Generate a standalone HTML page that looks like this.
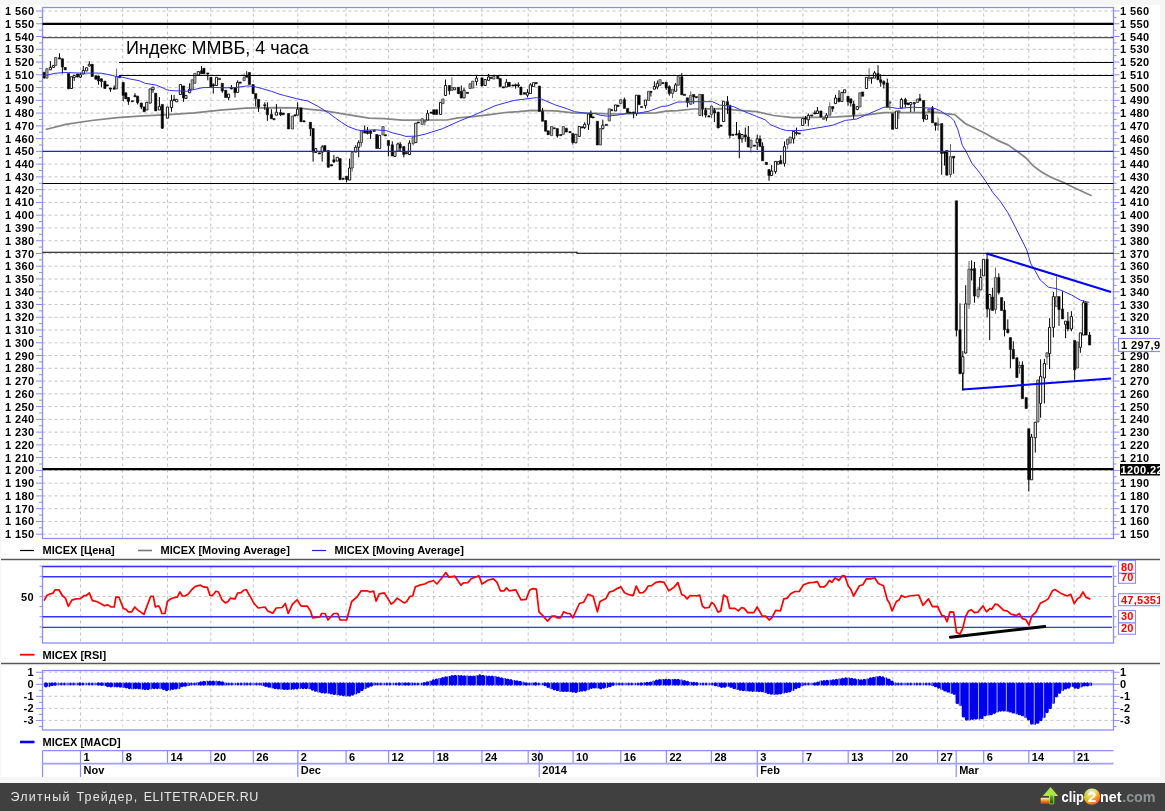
<!DOCTYPE html>
<html><head><meta charset="utf-8"><title>chart</title>
<style>
html,body{margin:0;padding:0;background:#f6f6f6;}
body{width:1165px;height:811px;overflow:hidden;position:relative;font-family:"Liberation Sans",sans-serif;}
#img{position:absolute;left:1px;top:5px;width:1159px;height:772px;background:#fff;}
#bar{position:absolute;left:0;top:783px;width:1165px;height:28px;background:#404040;}
#cap{will-change:transform;position:absolute;left:10px;top:787px;font-size:13px;letter-spacing:0.62px;color:#e4e4e4;white-space:nowrap;line-height:16px;}
svg{position:absolute;left:0;top:0;will-change:transform;}
text{font-family:"Liberation Sans",sans-serif;}
.ax{font-size:11px;font-weight:bold;fill:#000;letter-spacing:0.4px;}
.lg{font-size:11px;font-weight:bold;fill:#000;}
.rd{font-size:11px;font-weight:bold;fill:#f00;letter-spacing:0.25px;}
</style></head><body>
<div id="img"></div><div id="bar"></div>
<svg width="1165" height="811" viewBox="0 0 1165 811">
<path d="M42.5 534.20H1113.5M42.5 521.44H1113.5M42.5 508.68H1113.5M42.5 495.92H1113.5M42.5 483.16H1113.5M42.5 470.40H1113.5M42.5 457.63H1113.5M42.5 444.87H1113.5M42.5 432.11H1113.5M42.5 419.35H1113.5M42.5 406.59H1113.5M42.5 393.83H1113.5M42.5 381.07H1113.5M42.5 368.31H1113.5M42.5 355.55H1113.5M42.5 342.79H1113.5M42.5 330.02H1113.5M42.5 317.26H1113.5M42.5 304.50H1113.5M42.5 291.74H1113.5M42.5 278.98H1113.5M42.5 266.22H1113.5M42.5 253.46H1113.5M42.5 240.70H1113.5M42.5 227.94H1113.5M42.5 215.18H1113.5M42.5 202.41H1113.5M42.5 189.65H1113.5M42.5 176.89H1113.5M42.5 164.13H1113.5M42.5 151.37H1113.5M42.5 138.61H1113.5M42.5 125.85H1113.5M42.5 113.09H1113.5M42.5 100.33H1113.5M42.5 87.57H1113.5M42.5 74.81H1113.5M42.5 62.04H1113.5M42.5 49.28H1113.5M42.5 36.52H1113.5M42.5 23.76H1113.5M42.5 11.00H1113.5" stroke="#c2c2c2" stroke-width="1" stroke-dasharray="3 3" fill="none"/>
<path d="M80.5 7.5V538.5M80.5 566.5V643M80.5 670.5V730M122.7 7.5V538.5M122.7 566.5V643M122.7 670.5V730M167.5 7.5V538.5M167.5 566.5V643M167.5 670.5V730M210.8 7.5V538.5M210.8 566.5V643M210.8 670.5V730M253.3 7.5V538.5M253.3 566.5V643M253.3 670.5V730M297.8 7.5V538.5M297.8 566.5V643M297.8 670.5V730M346.1 7.5V538.5M346.1 566.5V643M346.1 670.5V730M388.6 7.5V538.5M388.6 566.5V643M388.6 670.5V730M433.7 7.5V538.5M433.7 566.5V643M433.7 670.5V730M481.9 7.5V538.5M481.9 566.5V643M481.9 670.5V730M528.2 7.5V538.5M528.2 566.5V643M528.2 670.5V730M573.1 7.5V538.5M573.1 566.5V643M573.1 670.5V730M620.8 7.5V538.5M620.8 566.5V643M620.8 670.5V730M666.4 7.5V538.5M666.4 566.5V643M666.4 670.5V730M711.4 7.5V538.5M711.4 566.5V643M711.4 670.5V730M757.3 7.5V538.5M757.3 566.5V643M757.3 670.5V730M802.9 7.5V538.5M802.9 566.5V643M802.9 670.5V730M848.2 7.5V538.5M848.2 566.5V643M848.2 670.5V730M892.8 7.5V538.5M892.8 566.5V643M892.8 670.5V730M937.6 7.5V538.5M937.6 566.5V643M937.6 670.5V730M983.7 7.5V538.5M983.7 566.5V643M983.7 670.5V730M1028.8 7.5V538.5M1028.8 566.5V643M1028.8 670.5V730M1074.1 7.5V538.5M1074.1 566.5V643M1074.1 670.5V730" stroke="#c2c2c2" stroke-width="1" stroke-dasharray="3 3" fill="none"/>
<path d="M36 534.20H42.5M1113.5 534.20H1119.5M36 521.44H42.5M1113.5 521.44H1119.5M36 508.68H42.5M1113.5 508.68H1119.5M36 495.92H42.5M1113.5 495.92H1119.5M36 483.16H42.5M1113.5 483.16H1119.5M36 470.40H42.5M1113.5 470.40H1119.5M36 457.63H42.5M1113.5 457.63H1119.5M36 444.87H42.5M1113.5 444.87H1119.5M36 432.11H42.5M1113.5 432.11H1119.5M36 419.35H42.5M1113.5 419.35H1119.5M36 406.59H42.5M1113.5 406.59H1119.5M36 393.83H42.5M1113.5 393.83H1119.5M36 381.07H42.5M1113.5 381.07H1119.5M36 368.31H42.5M1113.5 368.31H1119.5M36 355.55H42.5M1113.5 355.55H1119.5M36 342.79H42.5M1113.5 342.79H1119.5M36 330.02H42.5M1113.5 330.02H1119.5M36 317.26H42.5M1113.5 317.26H1119.5M36 304.50H42.5M1113.5 304.50H1119.5M36 291.74H42.5M1113.5 291.74H1119.5M36 278.98H42.5M1113.5 278.98H1119.5M36 266.22H42.5M1113.5 266.22H1119.5M36 253.46H42.5M1113.5 253.46H1119.5M36 240.70H42.5M1113.5 240.70H1119.5M36 227.94H42.5M1113.5 227.94H1119.5M36 215.18H42.5M1113.5 215.18H1119.5M36 202.41H42.5M1113.5 202.41H1119.5M36 189.65H42.5M1113.5 189.65H1119.5M36 176.89H42.5M1113.5 176.89H1119.5M36 164.13H42.5M1113.5 164.13H1119.5M36 151.37H42.5M1113.5 151.37H1119.5M36 138.61H42.5M1113.5 138.61H1119.5M36 125.85H42.5M1113.5 125.85H1119.5M36 113.09H42.5M1113.5 113.09H1119.5M36 100.33H42.5M1113.5 100.33H1119.5M36 87.57H42.5M1113.5 87.57H1119.5M36 74.81H42.5M1113.5 74.81H1119.5M36 62.04H42.5M1113.5 62.04H1119.5M36 49.28H42.5M1113.5 49.28H1119.5M36 36.52H42.5M1113.5 36.52H1119.5M36 23.76H42.5M1113.5 23.76H1119.5M36 11.00H42.5M1113.5 11.00H1119.5M39 527.82H42.5M1113.5 527.82H1116.5M39 515.06H42.5M1113.5 515.06H1116.5M39 502.30H42.5M1113.5 502.30H1116.5M39 489.54H42.5M1113.5 489.54H1116.5M39 476.78H42.5M1113.5 476.78H1116.5M39 464.02H42.5M1113.5 464.02H1116.5M39 451.25H42.5M1113.5 451.25H1116.5M39 438.49H42.5M1113.5 438.49H1116.5M39 425.73H42.5M1113.5 425.73H1116.5M39 412.97H42.5M1113.5 412.97H1116.5M39 400.21H42.5M1113.5 400.21H1116.5M39 387.45H42.5M1113.5 387.45H1116.5M39 374.69H42.5M1113.5 374.69H1116.5M39 361.93H42.5M1113.5 361.93H1116.5M39 349.17H42.5M1113.5 349.17H1116.5M39 336.41H42.5M1113.5 336.41H1116.5M39 323.64H42.5M1113.5 323.64H1116.5M39 310.88H42.5M1113.5 310.88H1116.5M39 298.12H42.5M1113.5 298.12H1116.5M39 285.36H42.5M1113.5 285.36H1116.5M39 272.60H42.5M1113.5 272.60H1116.5M39 259.84H42.5M1113.5 259.84H1116.5M39 247.08H42.5M1113.5 247.08H1116.5M39 234.32H42.5M1113.5 234.32H1116.5M39 221.56H42.5M1113.5 221.56H1116.5M39 208.80H42.5M1113.5 208.80H1116.5M39 196.03H42.5M1113.5 196.03H1116.5M39 183.27H42.5M1113.5 183.27H1116.5M39 170.51H42.5M1113.5 170.51H1116.5M39 157.75H42.5M1113.5 157.75H1116.5M39 144.99H42.5M1113.5 144.99H1116.5M39 132.23H42.5M1113.5 132.23H1116.5M39 119.47H42.5M1113.5 119.47H1116.5M39 106.71H42.5M1113.5 106.71H1116.5M39 93.95H42.5M1113.5 93.95H1116.5M39 81.19H42.5M1113.5 81.19H1116.5M39 68.42H42.5M1113.5 68.42H1116.5M39 55.66H42.5M1113.5 55.66H1116.5M39 42.90H42.5M1113.5 42.90H1116.5M39 30.14H42.5M1113.5 30.14H1116.5M39 17.38H42.5M1113.5 17.38H1116.5" stroke="#8c8cff" stroke-width="1" fill="none"/>
<rect x="42.5" y="7.5" width="1071.0" height="531.0" fill="none" stroke="#8c8cff" stroke-width="1.3"/>
<text class="ax" x="34.5" y="538.2" text-anchor="end">1 150</text>
<text class="ax" x="1120" y="538.2">1 150</text>
<text class="ax" x="34.5" y="525.4" text-anchor="end">1 160</text>
<text class="ax" x="1120" y="525.4">1 160</text>
<text class="ax" x="34.5" y="512.7" text-anchor="end">1 170</text>
<text class="ax" x="1120" y="512.7">1 170</text>
<text class="ax" x="34.5" y="499.9" text-anchor="end">1 180</text>
<text class="ax" x="1120" y="499.9">1 180</text>
<text class="ax" x="34.5" y="487.2" text-anchor="end">1 190</text>
<text class="ax" x="1120" y="487.2">1 190</text>
<text class="ax" x="34.5" y="474.4" text-anchor="end">1 200</text>
<text class="ax" x="1120" y="474.4">1 200</text>
<text class="ax" x="34.5" y="461.6" text-anchor="end">1 210</text>
<text class="ax" x="1120" y="461.6">1 210</text>
<text class="ax" x="34.5" y="448.9" text-anchor="end">1 220</text>
<text class="ax" x="1120" y="448.9">1 220</text>
<text class="ax" x="34.5" y="436.1" text-anchor="end">1 230</text>
<text class="ax" x="1120" y="436.1">1 230</text>
<text class="ax" x="34.5" y="423.4" text-anchor="end">1 240</text>
<text class="ax" x="1120" y="423.4">1 240</text>
<text class="ax" x="34.5" y="410.6" text-anchor="end">1 250</text>
<text class="ax" x="1120" y="410.6">1 250</text>
<text class="ax" x="34.5" y="397.8" text-anchor="end">1 260</text>
<text class="ax" x="1120" y="397.8">1 260</text>
<text class="ax" x="34.5" y="385.1" text-anchor="end">1 270</text>
<text class="ax" x="1120" y="385.1">1 270</text>
<text class="ax" x="34.5" y="372.3" text-anchor="end">1 280</text>
<text class="ax" x="1120" y="372.3">1 280</text>
<text class="ax" x="34.5" y="359.5" text-anchor="end">1 290</text>
<text class="ax" x="1120" y="359.5">1 290</text>
<text class="ax" x="34.5" y="346.8" text-anchor="end">1 300</text>
<text class="ax" x="1120" y="346.8">1 300</text>
<text class="ax" x="34.5" y="334.0" text-anchor="end">1 310</text>
<text class="ax" x="1120" y="334.0">1 310</text>
<text class="ax" x="34.5" y="321.3" text-anchor="end">1 320</text>
<text class="ax" x="1120" y="321.3">1 320</text>
<text class="ax" x="34.5" y="308.5" text-anchor="end">1 330</text>
<text class="ax" x="1120" y="308.5">1 330</text>
<text class="ax" x="34.5" y="295.7" text-anchor="end">1 340</text>
<text class="ax" x="1120" y="295.7">1 340</text>
<text class="ax" x="34.5" y="283.0" text-anchor="end">1 350</text>
<text class="ax" x="1120" y="283.0">1 350</text>
<text class="ax" x="34.5" y="270.2" text-anchor="end">1 360</text>
<text class="ax" x="1120" y="270.2">1 360</text>
<text class="ax" x="34.5" y="257.5" text-anchor="end">1 370</text>
<text class="ax" x="1120" y="257.5">1 370</text>
<text class="ax" x="34.5" y="244.7" text-anchor="end">1 380</text>
<text class="ax" x="1120" y="244.7">1 380</text>
<text class="ax" x="34.5" y="231.9" text-anchor="end">1 390</text>
<text class="ax" x="1120" y="231.9">1 390</text>
<text class="ax" x="34.5" y="219.2" text-anchor="end">1 400</text>
<text class="ax" x="1120" y="219.2">1 400</text>
<text class="ax" x="34.5" y="206.4" text-anchor="end">1 410</text>
<text class="ax" x="1120" y="206.4">1 410</text>
<text class="ax" x="34.5" y="193.7" text-anchor="end">1 420</text>
<text class="ax" x="1120" y="193.7">1 420</text>
<text class="ax" x="34.5" y="180.9" text-anchor="end">1 430</text>
<text class="ax" x="1120" y="180.9">1 430</text>
<text class="ax" x="34.5" y="168.1" text-anchor="end">1 440</text>
<text class="ax" x="1120" y="168.1">1 440</text>
<text class="ax" x="34.5" y="155.4" text-anchor="end">1 450</text>
<text class="ax" x="1120" y="155.4">1 450</text>
<text class="ax" x="34.5" y="142.6" text-anchor="end">1 460</text>
<text class="ax" x="1120" y="142.6">1 460</text>
<text class="ax" x="34.5" y="129.8" text-anchor="end">1 470</text>
<text class="ax" x="1120" y="129.8">1 470</text>
<text class="ax" x="34.5" y="117.1" text-anchor="end">1 480</text>
<text class="ax" x="1120" y="117.1">1 480</text>
<text class="ax" x="34.5" y="104.3" text-anchor="end">1 490</text>
<text class="ax" x="1120" y="104.3">1 490</text>
<text class="ax" x="34.5" y="91.6" text-anchor="end">1 500</text>
<text class="ax" x="1120" y="91.6">1 500</text>
<text class="ax" x="34.5" y="78.8" text-anchor="end">1 510</text>
<text class="ax" x="1120" y="78.8">1 510</text>
<text class="ax" x="34.5" y="66.0" text-anchor="end">1 520</text>
<text class="ax" x="1120" y="66.0">1 520</text>
<text class="ax" x="34.5" y="53.3" text-anchor="end">1 530</text>
<text class="ax" x="1120" y="53.3">1 530</text>
<text class="ax" x="34.5" y="40.5" text-anchor="end">1 540</text>
<text class="ax" x="1120" y="40.5">1 540</text>
<text class="ax" x="34.5" y="27.8" text-anchor="end">1 550</text>
<text class="ax" x="1120" y="27.8">1 550</text>
<text class="ax" x="34.5" y="15.0" text-anchor="end">1 560</text>
<text class="ax" x="1120" y="15.0">1 560</text>
<path d="M45.7 129.5L65.8 124.4L91.5 120.5L117.3 117.7L143.0 115.9L168.8 114.6L194.5 112.8L220.3 110.2L246.0 108.2L271.8 107.6L297.5 107.8L310.0 109.3L323.3 110.7L340.0 113.3L369.0 118.2L384.1 118.7L393.0 119.3L402.3 120.2L446.8 120.0L458.0 117.9L472.7 116.6L489.9 114.6L505.5 112.5L518.5 111.6L531.4 110.4L555.6 110.8L572.8 112.8L595.2 113.4L615.9 114.0L630.0 113.7L655.9 112.9L666.2 111.2L677.5 110.7L693.0 109.0L722.0 108.7L739.3 110.4L756.5 111.6L773.8 115.5L792.8 117.7L815.0 117.3L836.6 116.9L849.5 116.1L866.8 114.8L884.0 112.6L912.6 112.7L936.8 112.4L943.7 113.3L954.8 114.6L965.2 123.5L974.9 128.3L985.9 133.8L997.0 140.1L1008.0 144.9L1017.7 151.8L1026.0 158.0L1032.9 165.6L1041.2 171.8L1050.8 177.3L1064.6 182.9L1078.5 189.8L1091.6 195.7" stroke="#858585" stroke-width="1.7" fill="none" stroke-linejoin="round"/>
<path d="M44.3 71.9V72.3M44.3 78.1V78.5M50.4 61.2V67.4M50.4 69.8V70.2M53.5 65.0V65.4M53.5 67.4V67.8M59.5 53.3V57.8M62.4 58.5V58.8M62.4 67.1V73.6M65.2 67.1V67.4M65.2 69.8V70.2M68.6 73.3V73.6M68.6 88.8V89.2M71.4 76.4V76.7M71.4 88.5V88.8M74.2 75.0V75.4M74.2 77.4V80.9M77.6 73.6V74.0M77.6 77.1V77.4M80.4 72.6V74.7M80.4 77.1V78.1M83.3 66.0V70.5M83.3 74.0V74.3M86.6 67.4V67.8M86.6 70.9V71.2M89.3 61.2V64.3M89.3 66.0V66.4M92.2 64.0V64.3M92.2 76.4V76.7M95.9 75.4V75.7M95.9 79.2V79.5M98.5 75.7V76.1M98.5 80.9V84.7M101.4 78.5V78.8M101.4 81.6V87.4M104.9 80.9V81.2M104.9 88.5V88.8M110.4 89.2V91.9M114.2 85.4V87.8M114.2 89.2V89.5M119.7 75.5V76.0M123.2 82.0V82.4M123.2 95.4V101.4M125.8 92.4V92.8M128.4 97.1V97.5M128.4 101.4V104.9M135.0 93.2V95.6M137.6 95.8V96.2M137.6 102.7V104.4M141.3 102.7V103.1M141.3 107.0V109.2M144.2 106.6V107.0M153.0 89.8V92.8M159.4 97.1V106.6M162.3 128.2V129.0M171.5 94.9V100.6M171.5 107.5V111.8M174.1 94.9V99.3M183.6 98.0V101.8M189.6 83.3V89.3M201.5 66.0V70.8M207.8 74.1V80.3M213.3 83.3V84.6M213.3 85.9V93.6M216.5 85.5V85.9M222.3 91.1V92.8M228.6 97.5V100.1M231.4 85.0V87.6M231.4 88.9V89.3M235.0 92.8V97.5M237.6 80.3V82.4M246.7 71.2V75.5M255.7 98.8V106.6M258.5 107.0V111.8M264.8 102.3V104.7M264.8 105.9V110.0M267.4 102.3V108.3M267.4 114.8V120.8M271.4 109.2V114.4M276.4 104.0V112.2M280.6 109.2V112.6M280.6 114.8V116.1M297.6 102.3V109.2M310.4 128.8V136.1M313.1 152.1V161.6M322.2 145.2V146.9M322.2 152.1V161.6M328.3 167.2V167.6M333.9 155.1V159.8M333.9 162.0V162.9M346.6 179.7V182.3M349.6 158.6V168.0M355.7 145.2V147.3M358.7 140.4V142.6M358.7 147.3V157.3M364.7 125.3V130.9M367.5 127.1V130.9M367.5 133.5V134.4M370.6 130.1V130.9M370.6 133.5V139.1M388.4 145.6V156.4M392.3 141.3V144.7M397.9 142.6V143.9M400.2 142.1V144.2M400.2 148.1V151.2M403.8 154.5V157.4M409.5 140.3V143.1M427.5 110.1V113.6M445.5 79.5V85.5M449.4 90.7V94.6M461.3 85.5V91.6M464.0 88.1V90.3M476.5 75.6V78.2M476.5 81.6V85.5M488.6 73.9V76.9M506.4 79.2V82.3M515.6 83.6V84.7M515.6 85.9V88.7M518.3 82.3V84.7M518.3 85.9V87.4M527.5 89.2V92.6M527.5 95.2V97.4M530.4 83.1V84.8M542.6 107.9V111.4M557.3 136.0V137.7M572.8 142.5V144.6M584.7 122.2V124.3M584.7 127.4V129.1M588.5 124.3V129.9M590.9 110.5V113.6M602.8 119.6V125.2M602.8 128.6V129.5M624.4 97.6V99.7M633.6 113.1V118.3M636.5 113.3V115.9M645.5 105.6V108.6M650.9 92.6V96.5M654.4 81.4V86.6M657.4 80.6V83.6M657.4 87.0V89.2M666.2 87.9V90.0M669.3 85.3V86.6M669.3 93.5V95.6M675.6 83.1V84.9M681.8 73.2V76.7M687.4 102.6V107.3M693.7 96.9V103.8M702.5 108.6V116.4M705.7 107.7V110.3M705.7 115.1V117.7M714.4 108.2V110.3M714.4 112.9V122.0M727.5 96.1V101.7M727.5 105.1V113.8M729.9 135.4V138.4M736.5 122.0V133.9M739.3 130.2V133.2M739.3 138.8V158.2M742.0 138.8V142.7M745.3 127.6V134.9M745.3 137.1V141.8M748.3 125.9V137.1M757.2 134.9V138.8M757.2 142.7V150.0M760.0 135.4V138.8M762.6 142.3V146.2M769.0 175.5V180.8M771.6 165.1V171.1M775.5 171.6V173.7M780.7 155.2V160.4M784.5 141.4V146.6M784.5 163.4V166.6M793.6 138.8V143.6M796.5 127.6V132.2M796.5 133.4V135.4M805.5 116.0V118.0M805.5 119.2V123.7M808.3 113.4V115.5M808.3 119.8V126.3M814.8 110.4V112.8M817.4 107.0V110.9M826.4 113.1V115.2M826.4 117.8V120.8M832.7 108.7V111.8M835.5 94.9V98.0M839.0 90.2V98.0M848.0 101.8V105.7M850.8 103.1V106.6M853.7 101.0V104.0M853.7 114.8V119.1M871.5 78.6V83.7M874.5 71.2V72.9M878.0 65.2V73.4M880.7 74.2V79.8M880.7 82.4V86.7M883.8 80.3V81.6M883.8 84.2V88.5M887.3 78.6V82.9M901.4 97.8V99.5M905.3 97.8V99.5M905.3 104.2V107.7M910.7 104.7V112.0M914.3 103.8V111.6M919.9 93.9V98.6M923.6 118.9V121.9M932.5 106.0V107.7M935.5 125.4V130.6M941.7 153.5V174.7M944.5 153.2V165.6M953.6 158.1V173.7M956.4 330.2V336.4M960.0 303.3V329.7M960.0 373.7V374.2M962.8 351.0V356.7M962.8 373.3V390.4M965.7 285.2V303.8M965.7 353.0V353.5M971.6 260.4V269.1M971.6 270.3V280.5M974.5 261.9V268.6M974.5 296.1V302.8M980.7 268.6V277.4M987.1 253.6V259.3M987.1 309.0V317.3M989.7 309.0V340.1M992.6 287.8V297.1M998.8 273.3V277.4M998.8 292.4V294.5M1004.5 301.2V310.0M1004.5 329.7V336.4M1007.8 319.4V329.2M1007.8 332.8V333.3M1010.4 349.5V368.1M1013.3 341.2V349.5M1022.4 361.4V365.0M1028.8 479.8V491.5M1031.6 433.9V437.1M1035.3 437.7V452.6M1040.6 359.3V376.4M1040.6 403.4V417.7M1044.4 358.8V363.5M1044.4 378.0V403.4M1049.6 318.2V327.4M1049.6 353.6V369.0M1053.4 292.0V296.6M1053.4 327.4V337.4M1059.0 309.7V325.9M1062.5 291.2V308.9M1065.6 324.3V338.2M1067.9 312.0V321.2M1067.9 329.0V331.3M1071.4 311.2V316.6M1071.4 329.0V331.3M1074.7 369.8V379.8M1080.4 347.4V352.8M1083.5 300.4V302.7M1089.6 332.0V335.1" stroke="#000" stroke-width="1" fill="none"/>
<path d="M46.9 67.8V68.8M46.9 78.1V78.5M55.7 57.1V57.4M55.7 65.4V65.7M116.6 68.6V76.8M244.1 73.4V77.7M352.2 168.0V171.5M361.4 142.6V146.5M383.0 134.8V135.3M413.2 143.6V145.5M424.8 121.9V125.7M451.9 77.3V87.7M672.5 93.5V98.2M690.8 91.3V95.2M711.5 114.6V118.1M750.9 147.5V152.6M787.6 144.4V149.2M829.8 102.3V106.6M869.1 68.2V77.1M869.1 78.3V81.1M889.9 103.1V110.0M898.8 112.0V118.9M938.1 118.0V123.9M938.1 125.1V130.6M950.5 144.1V156.6M950.5 174.5V177.3M969.0 260.9V269.2M969.0 304.3V309.0M978.1 286.7V289.3M978.1 296.6V298.7M995.5 267.6V277.4M995.5 309.5V313.7M1019.5 361.4V365.5M1019.5 367.6V373.8M1047.0 357.0V365.0M1056.5 276.6V296.6" stroke="#666" stroke-width="1" fill="none"/>
<path d="M43.2 72.3H45.4V78.1H43.2ZM58.4 57.8H60.6V59.1H58.4ZM61.3 58.8H63.5V67.1H61.3ZM64.1 67.4H66.3V69.8H64.1ZM67.5 73.6H69.7V88.8H67.5ZM76.5 74.0H78.7V77.1H76.5ZM91.1 64.3H93.3V76.4H91.1ZM94.8 75.7H97.0V79.2H94.8ZM97.4 76.1H99.6V80.9H97.4ZM100.3 78.8H102.5V81.6H100.3ZM103.8 81.2H106.0V88.5H103.8ZM106.2 84.8H108.4V86.0H106.2ZM109.3 88.0H111.5V89.2H109.3ZM113.1 87.8H115.3V89.2H113.1ZM118.6 76.0H120.8V77.7H118.6ZM122.1 82.4H124.3V95.4H122.1ZM124.7 92.8H126.9V98.8H124.7ZM127.3 97.5H129.5V101.4H127.3ZM131.2 100.7H133.4V101.8H131.2ZM133.9 95.6H136.1V96.8H133.9ZM136.5 96.2H138.7V102.7H136.5ZM140.2 103.1H142.4V107.0H140.2ZM143.1 107.0H145.3V111.8H143.1ZM154.6 93.2H156.8V110.9H154.6ZM161.2 104.4H163.4V128.2H161.2ZM173.0 99.3H175.2V100.6H173.0ZM182.5 85.9H184.7V98.0H182.5ZM200.4 70.8H202.6V73.8H200.4ZM202.8 68.2H205.0V73.8H202.8ZM206.7 72.9H208.9V74.1H206.7ZM209.8 77.3H212.0V86.7H209.8ZM212.2 84.6H214.4V85.9H212.2ZM218.4 78.4H220.6V79.6H218.4ZM221.2 83.3H223.4V91.1H221.2ZM224.6 90.2H226.8V97.5H224.6ZM230.3 87.6H232.5V88.9H230.3ZM233.9 87.6H236.1V92.8H233.9ZM239.1 82.0H241.3V83.2H239.1ZM245.6 75.5H247.8V77.3H245.6ZM248.3 72.5H250.5V84.6H248.3ZM252.0 84.6H254.2V93.6H252.0ZM254.6 93.6H256.8V98.8H254.6ZM257.4 99.3H259.6V107.0H257.4ZM263.7 104.7H265.9V105.9H263.7ZM266.3 108.3H268.5V114.8H266.3ZM270.3 114.4H272.5V118.7H270.3ZM272.9 118.6H275.1V119.8H272.9ZM279.5 112.6H281.7V114.8H279.5ZM282.1 113.1H284.3V114.8H282.1ZM287.4 113.5H289.6V129.0H287.4ZM293.9 114.8H296.1V116.1H293.9ZM299.9 107.9H302.1V121.7H299.9ZM302.9 120.7H305.1V121.9H302.9ZM309.3 122.3H311.5V128.8H309.3ZM312.0 128.4H314.2V152.1H312.0ZM318.3 152.8H320.5V154.0H318.3ZM323.7 145.6H325.9V151.2H323.7ZM327.2 150.4H329.4V167.2H327.2ZM330.4 164.6H332.6V166.0H330.4ZM332.8 159.8H335.0V162.0H332.8ZM339.0 158.6H341.2V179.7H339.0ZM342.0 178.2H344.2V179.4H342.0ZM345.5 176.2H347.7V179.7H345.5ZM363.6 130.9H365.8V133.1H363.6ZM366.4 130.9H368.6V133.5H366.4ZM369.5 130.9H371.7V133.5H369.5ZM373.1 130.2H375.3V131.4H373.1ZM375.7 134.4H377.9V148.6H375.7ZM384.3 134.7H386.5V135.9H384.3ZM387.3 140.4H389.5V145.6H387.3ZM391.2 144.7H393.4V156.0H391.2ZM399.1 144.2H401.3V148.1H399.1ZM402.7 146.5H404.9V154.5H402.7ZM405.3 152.6H407.5V153.8H405.3ZM417.2 121.9H419.4V123.1H417.2ZM430.1 112.1H432.3V113.3H430.1ZM432.7 109.7H434.9V114.4H432.7ZM435.5 109.7H437.7V114.4H435.5ZM448.3 85.5H450.5V90.7H448.3ZM457.3 87.3H459.5V93.7H457.3ZM460.2 91.6H462.4V98.0H460.2ZM466.4 92.3H468.6V93.5H466.4ZM480.9 77.8H483.1V86.0H480.9ZM490.1 77.2H492.3V78.4H490.1ZM496.7 76.2H498.9V78.8H496.7ZM499.1 78.4H501.3V86.6H499.1ZM502.3 86.8H504.5V88.0H502.3ZM508.1 82.3H510.3V86.6H508.1ZM511.8 84.9H514.0V86.1H511.8ZM514.5 84.7H516.7V85.9H514.5ZM517.2 84.7H519.4V85.9H517.2ZM519.8 87.0H522.0V94.8H519.8ZM523.4 92.6H525.6V94.3H523.4ZM535.1 82.5H537.3V83.7H535.1ZM538.3 86.1H540.5V111.6H538.3ZM541.5 111.4H543.7V121.3H541.5ZM544.5 120.5H546.7V131.2H544.5ZM547.1 130.8H549.3V134.7H547.1ZM553.1 127.8H555.3V128.8H553.1ZM556.2 128.6H558.4V136.0H556.2ZM559.6 134.5H561.8V135.7H559.6ZM565.2 128.2H567.4V132.1H565.2ZM568.9 131.5H571.1V132.7H568.9ZM571.7 133.4H573.9V142.5H571.7ZM581.2 126.8H583.4V128.0H581.2ZM589.8 113.6H592.0V117.4H589.8ZM592.0 116.8H594.2V118.0H592.0ZM596.3 121.3H598.5V145.0H596.3ZM605.2 124.3H607.4V125.5H605.2ZM610.5 109.5H612.7V110.7H610.5ZM617.0 105.2H619.2V106.4H617.0ZM623.3 99.7H625.5V108.4H623.3ZM626.5 108.4H628.7V112.7H626.5ZM629.1 112.1H631.3V113.3H629.1ZM632.5 111.9H634.7V113.1H632.5ZM638.0 95.2H640.2V104.7H638.0ZM640.5 106.4H642.7V107.6H640.5ZM649.8 91.3H652.0V92.6H649.8ZM661.7 82.5H663.9V83.7H661.7ZM665.1 82.3H667.3V87.9H665.1ZM668.2 86.6H670.4V93.5H668.2ZM680.7 76.7H682.9V94.8H680.7ZM683.3 94.2H685.5V95.4H683.3ZM686.3 97.8H688.5V102.6H686.3ZM692.6 94.4H694.8V96.9H692.6ZM695.3 96.6H697.5V97.8H695.3ZM701.4 94.4H703.6V108.6H701.4ZM704.6 110.3H706.8V115.1H704.6ZM707.8 115.8H710.0V117.0H707.8ZM713.3 110.3H715.5V112.9H713.3ZM717.1 112.0H719.3V128.0H717.1ZM719.9 125.1H722.1V126.3H719.9ZM726.4 101.7H728.6V105.1H726.4ZM728.8 105.2H731.0V135.4H728.8ZM731.7 134.3H733.9V135.5H731.7ZM735.4 133.9H737.6V135.1H735.4ZM738.2 133.2H740.4V138.8H738.2ZM744.2 134.9H746.4V137.1H744.2ZM747.2 137.1H749.4V147.0H747.2ZM753.3 145.1H755.5V146.3H753.3ZM758.9 138.8H761.1V146.6H758.9ZM761.5 146.2H763.7V160.8H761.5ZM765.3 162.3H767.5V164.5H765.3ZM767.9 169.6H770.1V175.5H767.9ZM779.6 160.4H781.8V163.8H779.6ZM795.4 132.2H797.6V133.4H795.4ZM798.1 132.9H800.3V134.1H798.1ZM804.4 118.0H806.6V119.2H804.4ZM810.6 114.9H812.8V116.1H810.6ZM813.7 112.8H815.9V114.0H813.7ZM819.8 110.9H822.0V116.9H819.8ZM831.6 106.6H833.8V108.7H831.6ZM837.9 98.0H840.1V101.8H837.9ZM846.9 96.2H849.1V101.8H846.9ZM849.7 98.8H851.9V103.1H849.7ZM852.6 104.0H854.8V114.8H852.6ZM861.5 91.9H863.7V96.2H861.5ZM870.4 77.4H872.6V78.6H870.4ZM876.9 73.4H879.1V79.8H876.9ZM879.6 79.8H881.8V82.4H879.6ZM882.7 81.6H884.9V84.2H882.7ZM886.2 82.9H888.4V107.0H886.2ZM891.5 113.7H893.7V129.3H891.5ZM904.2 99.5H906.4V104.2H904.2ZM906.8 102.9H909.0V104.7H906.8ZM913.2 102.5H915.4V103.8H913.2ZM918.8 98.6H921.0V100.8H918.8ZM922.5 100.4H924.7V118.9H922.5ZM931.4 107.7H933.6V122.8H931.4ZM934.4 122.8H936.6V125.4H934.4ZM940.6 123.6H942.8V153.5H940.6ZM943.4 152.0H945.6V153.2H943.4ZM945.7 150.4H947.9V175.2H945.7ZM952.5 156.3H954.7V158.1H952.5ZM955.3 200.8H957.5V330.2H955.3ZM958.9 329.7H961.1V373.7H958.9ZM970.5 269.1H972.7V270.3H970.5ZM973.4 268.6H975.6V296.1H973.4ZM986.0 259.3H988.2V309.0H986.0ZM991.5 297.1H993.7V310.6H991.5ZM997.7 277.4H999.9V292.4H997.7ZM1000.5 297.6H1002.7V310.6H1000.5ZM1003.4 310.0H1005.6V329.7H1003.4ZM1006.7 329.2H1008.9V332.8H1006.7ZM1009.3 337.6H1011.5V349.5H1009.3ZM1012.2 349.5H1014.4V358.8H1012.2ZM1015.8 357.8H1018.0V377.5H1015.8ZM1021.3 365.0H1023.5V398.7H1021.3ZM1025.1 397.6H1027.3V408.6H1025.1ZM1027.7 428.7H1029.9V479.8H1027.7ZM1057.9 296.6H1060.1V309.7H1057.9ZM1061.4 308.9H1063.6V318.9H1061.4ZM1066.8 321.2H1069.0V329.0H1066.8ZM1073.6 340.5H1075.8V369.8H1073.6ZM1085.0 302.7H1087.2V335.1H1085.0ZM1088.5 335.1H1090.7V345.1H1088.5Z" fill="#000" stroke="#000" stroke-width="0.6"/>
<path d="M49.3 67.4H51.5V69.8H49.3ZM52.4 65.4H54.6V67.4H52.4ZM70.3 76.7H72.5V88.5H70.3ZM73.1 75.4H75.3V77.4H73.1ZM79.3 74.7H81.5V77.1H79.3ZM82.2 70.5H84.4V74.0H82.2ZM85.5 67.8H87.7V70.9H85.5ZM88.2 64.3H90.4V66.0H88.2ZM145.7 102.3H147.9V110.0H145.7ZM149.1 88.9H151.3V103.1H149.1ZM151.9 87.2H154.1V89.8H151.9ZM158.3 106.6H160.5V110.0H158.3ZM166.4 107.0H168.6V118.2H166.4ZM170.4 100.6H172.6V107.5H170.4ZM175.6 99.3H177.8V101.8H175.6ZM179.3 84.6H181.5V94.5H179.3ZM184.8 95.4H187.0V98.4H184.8ZM188.5 89.3H190.7V92.8H188.5ZM197.2 71.6H199.4V75.1H197.2ZM215.4 77.3H217.6V85.5H215.4ZM227.5 94.1H229.7V97.5H227.5ZM236.5 82.4H238.7V92.4H236.5ZM275.3 112.2H277.5V115.2H275.3ZM296.5 109.2H298.7V115.2H296.5ZM314.6 148.6H316.8V152.5H314.6ZM321.1 146.9H323.3V152.1H321.1ZM336.2 157.3H338.4V161.1H336.2ZM348.5 168.0H350.7V180.1H348.5ZM354.6 147.3H356.8V152.1H354.6ZM357.6 142.6H359.8V147.3H357.6ZM378.5 135.3H380.7V148.6H378.5ZM393.8 151.6H396.0V156.4H393.8ZM396.8 143.9H399.0V151.2H396.8ZM408.4 143.1H410.6V154.5H408.4ZM414.7 123.2H416.9V142.6H414.7ZM426.4 113.6H428.6V120.0H426.4ZM439.5 102.4H441.7V114.4H439.5ZM444.4 85.5H446.6V95.5H444.4ZM453.4 87.7H455.6V89.8H453.4ZM462.9 90.3H465.1V98.0H462.9ZM475.4 78.2H477.6V81.6H475.4ZM484.1 79.5H486.3V85.5H484.1ZM487.5 76.9H489.7V80.4H487.5ZM505.3 82.3H507.5V87.0H505.3ZM526.4 92.6H528.6V95.2H526.4ZM529.3 84.8H531.5V93.5H529.3ZM532.5 82.7H534.7V86.6H532.5ZM574.7 134.3H576.9V142.9H574.7ZM578.2 126.5H580.4V136.4H578.2ZM583.6 124.3H585.8V127.4H583.6ZM587.4 114.0H589.6V124.3H587.4ZM601.7 125.2H603.9V128.6H601.7ZM614.4 104.9H616.6V111.0H614.4ZM635.4 95.2H637.6V113.3H635.4ZM644.4 100.0H646.6V105.6H644.4ZM653.3 86.6H655.5V89.2H653.3ZM656.3 83.6H658.5V87.0H656.3ZM674.5 84.9H676.7V91.3H674.5ZM722.5 101.3H724.7V121.5H722.5ZM740.9 134.5H743.1V138.8H740.9ZM756.1 138.8H758.3V142.7H756.1ZM770.5 171.1H772.7V175.5H770.5ZM774.4 161.4H776.6V171.6H774.4ZM777.2 161.6H779.4V164.2H777.2ZM783.4 146.6H785.6V163.4H783.4ZM792.5 131.5H794.7V138.8H792.5ZM801.6 118.6H803.8V125.5H801.6ZM807.2 115.5H809.4V119.8H807.2ZM816.3 110.9H818.5V113.5H816.3ZM825.3 115.2H827.5V117.8H825.3ZM834.4 98.0H836.6V103.6H834.4ZM840.8 92.4H843.0V101.4H840.8ZM843.5 89.8H845.7V92.8H843.5ZM856.2 106.6H858.4V109.6H856.2ZM865.4 77.3H867.6V88.5H865.4ZM873.4 72.9H875.6V78.1H873.4ZM895.4 111.1H897.6V128.4H895.4ZM900.3 99.5H902.5V108.1H900.3ZM909.6 102.5H911.8V104.7H909.6ZM925.3 115.0H927.5V119.3H925.3ZM961.7 356.7H963.9V373.3H961.7ZM964.6 303.8H966.8V353.0H964.6ZM979.6 277.4H981.8V289.9H979.6ZM982.4 259.3H984.6V275.9H982.4ZM988.6 294.5H990.8V309.0H988.6ZM1030.5 437.1H1032.7V479.8H1030.5ZM1034.2 422.2H1036.4V437.7H1034.2ZM1039.5 376.4H1041.7V403.4H1039.5ZM1043.3 363.5H1045.5V378.0H1043.3ZM1048.5 327.4H1050.7V353.6H1048.5ZM1052.3 296.6H1054.5V327.4H1052.3ZM1064.5 321.2H1066.7V324.3H1064.5ZM1070.3 316.6H1072.5V329.0H1070.3ZM1079.3 332.8H1081.5V347.4H1079.3ZM1082.4 302.7H1084.6V335.1H1082.4Z" fill="#fff" stroke="#000" stroke-width="0.9"/>
<path d="M45.8 68.8H48.0V78.1H45.8ZM54.6 57.4H56.8V65.4H54.6ZM115.5 76.8H117.7V88.9H115.5ZM191.1 79.8H193.3V89.3H191.1ZM193.7 73.4H195.9V83.3H193.7ZM243.0 77.7H245.2V80.7H243.0ZM291.3 116.1H293.5V129.0H291.3ZM351.1 152.5H353.3V168.0H351.1ZM360.3 130.9H362.5V142.6H360.3ZM381.9 126.6H384.1V134.8H381.9ZM412.1 137.2H414.3V143.6H412.1ZM421.1 118.7H423.3V124.4H421.1ZM423.7 120.7H425.9V121.9H423.7ZM441.8 98.9H444.0V103.6H441.8ZM450.8 87.7H453.0V90.3H450.8ZM469.0 83.8H471.2V88.6H469.0ZM471.6 81.2H473.8V88.1H471.6ZM492.7 76.5H494.9V79.1H492.7ZM550.5 126.5H552.7V135.6H550.5ZM562.2 126.5H564.4V134.3H562.2ZM599.3 128.6H601.5V145.0H599.3ZM608.2 108.8H610.4V120.9H608.2ZM619.6 99.7H621.8V103.6H619.6ZM647.5 91.3H649.7V100.4H647.5ZM658.9 79.7H661.1V85.3H658.9ZM671.4 89.2H673.6V93.5H671.4ZM677.2 76.7H679.4V85.3H677.2ZM689.7 95.2H691.9V104.3H689.7ZM698.8 94.4H701.0V115.5H698.8ZM710.4 106.0H712.6V114.6H710.4ZM749.8 140.1H752.0V147.5H749.8ZM786.5 139.3H788.7V144.4H786.5ZM789.1 137.1H791.3V143.1H789.1ZM822.5 118.1H824.7V119.3H822.5ZM828.7 106.6H830.9V115.2H828.7ZM858.8 92.8H861.0V107.0H858.8ZM868.0 77.1H870.2V78.3H868.0ZM888.8 101.9H891.0V103.1H888.8ZM897.7 110.8H899.9V112.0H897.7ZM916.3 99.1H918.5V102.5H916.3ZM927.9 109.0H930.1V111.6H927.9ZM937.0 123.9H939.2V125.1H937.0ZM949.4 156.6H951.6V174.5H949.4ZM967.9 269.2H970.1V304.3H967.9ZM977.0 289.3H979.2V296.6H977.0ZM994.4 277.4H996.6V309.5H994.4ZM1018.4 365.5H1020.6V367.6H1018.4ZM1036.7 380.0H1038.9V422.0H1036.7ZM1045.9 352.8H1048.1V357.0H1045.9ZM1055.4 296.6H1057.6V306.6H1055.4ZM1076.4 342.0H1078.6V368.0H1076.4Z" fill="#b8b8b8" stroke="#444" stroke-width="0.9"/>
<path d="M43.9 75.8L55.0 73.3L62.8 72.6L68.3 72.6L82.5 73.2L95.4 73.0L102.0 73.3L109.0 74.7L115.5 76.3L122.8 77.3L130.1 79.0L139.2 80.7L145.2 83.3L156.4 85.2L163.6 88.3L166.8 89.8L171.1 90.6L186.6 91.3L192.7 89.8L203.0 87.6L215.0 87.4L222.9 87.8L235.9 87.6L247.1 85.9L253.1 86.3L261.8 88.5L271.8 91.4L279.0 94.1L284.7 95.6L296.3 98.6L307.8 101.0L318.1 106.4L328.4 112.8L335.4 118.0L341.4 122.3L348.3 126.6L356.1 129.6L360.4 130.5L375.1 129.8L386.3 130.7L393.0 133.0L400.7 134.8L405.9 136.4L416.3 136.1L425.1 134.2L431.8 132.0L442.5 128.7L459.7 120.9L472.7 115.7L495.0 105.8L498.6 104.7L514.2 100.4L528.8 98.6L536.6 97.6L541.8 99.1L554.7 104.7L567.7 109.0L574.6 111.7L584.9 113.0L595.2 113.6L600.4 115.3L607.3 116.1L615.9 115.3L626.3 113.6L637.8 113.2L649.0 111.2L661.9 106.4L667.1 106.0L677.5 102.1L690.4 101.7L712.8 101.7L719.7 105.1L733.2 106.5L743.6 111.2L756.5 116.4L765.1 119.8L770.3 124.6L780.7 128.9L786.7 130.6L802.2 130.6L812.6 128.7L823.6 126.9L833.1 125.1L845.2 120.4L856.4 119.1L868.5 113.9L884.0 107.2L890.9 107.3L897.8 108.5L912.6 107.2L923.8 107.7L935.0 108.6L940.2 110.7L945.4 114.2L950.0 116.6L954.1 120.7L958.0 130.0L962.4 145.6L966.0 151.3L972.1 163.5L979.2 172.1L985.9 181.5L992.8 192.5L999.9 200.8L1007.6 212.3L1015.4 227.3L1026.8 250.0L1030.9 264.0L1035.1 270.7L1040.2 280.0L1048.5 287.3L1056.3 288.6L1063.1 291.2L1071.6 295.0L1080.8 300.4L1089.3 302.4" stroke="#3030f8" stroke-width="1.0" fill="none" stroke-linejoin="round"/>
<path d="M986.5 253.5L1111 292" stroke="#0000ff" stroke-width="2.1"/>
<path d="M962.4 389.5L1111 378.5" stroke="#0000ff" stroke-width="2.0"/>
<path d="M962.8 372.8V390.4" stroke="#000" stroke-width="1"/>
<path d="M42.5 23.9H1113.5" stroke="#000" stroke-width="2.2"/>
<path d="M42.5 37.7H1113.5" stroke="#555" stroke-width="1.3"/>
<path d="M119 62.5H1113.5" stroke="#000" stroke-width="1.1"/>
<path d="M119 75.5H1113.5" stroke="#000" stroke-width="1.1"/>
<path d="M42.5 151.4H1113.5" stroke="#2020e0" stroke-width="1.2"/>
<path d="M42.5 183.5H1113.5" stroke="#000" stroke-width="1.2"/>
<path d="M42.5 252.3H577V253.3H1113.5" stroke="#000" stroke-width="1.1" fill="none"/>
<path d="M42.5 469.1H1113.5" stroke="#000" stroke-width="2.1"/>
<text x="126" y="53.5" font-size="18" fill="#000">Индекс ММВБ, 4 часа</text>
<rect x="1118.5" y="338.5" width="44" height="13" fill="#fff" stroke="#8c8cff" stroke-width="1.2"/>
<text class="ax" x="1121" y="348.9">1 297,9</text>
<rect x="1120" y="464" width="40" height="11.5" fill="#000"/>
<text class="ax" x="1120.5" y="474" style="fill:#fff">1200.22</text>
<path d="M20 550.5H34" stroke="#000" stroke-width="1.2"/>
<text class="lg" x="42.5" y="553.9">MICEX [Цена]</text>
<path d="M138 550.5H152" stroke="#777" stroke-width="1.6"/>
<text class="lg" x="160.5" y="553.9">MICEX [Moving Average]</text>
<path d="M312 550.5H326" stroke="#2020e0" stroke-width="1.2"/>
<text class="lg" x="334.5" y="553.9">MICEX [Moving Average]</text>
<path d="M1 559.3H1160" stroke="#5a5a5a" stroke-width="1.3"/><path d="M1 560.5H1160" stroke="#d8d8d8" stroke-width="1"/>
<path d="M1 663.5H1160" stroke="#5a5a5a" stroke-width="1.3"/><path d="M1 664.7H1160" stroke="#d8d8d8" stroke-width="1"/>
<path d="M42.5 596.5H1113.5" stroke="#c2c2c2" stroke-width="1" stroke-dasharray="3 3"/>
<rect x="42.5" y="566.5" width="1071.0" height="76.5" fill="none" stroke="#8c8cff" stroke-width="1.3"/>
<path d="M39.5 566.1H42.5M1113.5 566.1H1116.5M39.5 576.3H42.5M1113.5 576.3H1116.5M39.5 586.4H42.5M1113.5 586.4H1116.5M39.5 596.5H42.5M1113.5 596.5H1116.5M39.5 606.6H42.5M1113.5 606.6H1116.5M39.5 616.7H42.5M1113.5 616.7H1116.5M39.5 626.9H42.5M1113.5 626.9H1116.5M39.5 637.0H42.5M1113.5 637.0H1116.5" stroke="#8c8cff" stroke-width="1"/>
<path d="M42.5 566.5H1112M42.5 576.7H1112M42.5 616.7H1112M42.5 627.4H1112" stroke="#3434ff" stroke-width="1.35"/>
<text class="ax" x="34" y="600.5" text-anchor="end">50</text>
<rect x="1118.5" y="560.5" width="17" height="12.8" fill="#fff" stroke="#8c8cff" stroke-width="1.1"/>
<rect x="1118.5" y="573.3" width="17" height="10" fill="#fff" stroke="#8c8cff" stroke-width="1.1"/>
<rect x="1118.5" y="610.5" width="17" height="12.5" fill="#fff" stroke="#8c8cff" stroke-width="1.1"/>
<rect x="1118.5" y="623" width="17" height="11.2" fill="#fff" stroke="#8c8cff" stroke-width="1.1"/>
<rect x="1118.5" y="593.7" width="46" height="12" fill="#fff" stroke="#8c8cff" stroke-width="1.1"/>
<text class="rd" x="1121" y="570.6">80</text>
<text class="rd" x="1121" y="580.9">70</text>
<text class="rd" x="1121" y="620.2">30</text>
<text class="rd" x="1121" y="631.5">20</text>
<text class="rd" x="1121" y="604">47,5351</text>
<path d="M44.3 600.1L46.9 595.5L50.3 593.8L52.9 593.2L55.1 589.8L58.9 589.8L62.3 595.5L65.4 598.1L68.3 606.3L71.8 600.1L76.1 598.9L80.3 598.6L84.3 595.5L86.4 595.5L89.3 592.9L92.4 600.6L96.7 601.5L100.1 603.2L104.4 605.8L107.8 604.9L111.2 607.0L114.2 607.0L115.9 597.2L119.0 597.2L123.3 608.4L125.8 609.2L128.4 611.8L131.8 611.8L134.8 607.0L137.9 610.1L143.9 614.4L150.7 596.3L153.3 596.3L155.4 607.0L158.5 605.8L160.2 608.4L161.9 613.5L165.0 613.5L167.4 601.5L170.5 598.9L173.9 597.7L177.3 597.2L179.9 592.0L182.5 596.0L185.1 596.0L188.5 593.8L191.9 589.5L195.4 586.4L200.5 585.2L203.1 586.9L207.4 587.4L210.0 595.5L212.5 595.5L216.0 591.2L218.5 592.0L222.0 599.8L225.4 602.9L228.0 601.5L230.6 598.1L234.0 598.9L235.0 598.9L237.6 593.2L241.0 592.6L243.6 590.3L246.2 589.5L250.5 597.2L253.9 603.2L258.2 608.0L261.6 607.5L265.0 607.0L267.6 610.9L272.8 613.2L276.2 608.0L282.2 607.5L285.3 603.5L288.2 613.5L292.5 604.1L297.1 599.8L301.1 606.1L307.1 606.1L310.5 610.9L312.6 617.8L320.0 616.9L321.7 613.5L325.1 613.5L328.0 620.0L333.7 613.5L337.7 613.5L340.1 620.0L346.6 620.0L351.7 601.5L356.9 597.2L361.2 590.8L367.2 590.8L369.8 592.0L373.7 591.2L376.1 601.1L379.2 593.8L384.4 592.9L391.2 604.1L393.8 602.3L397.2 598.1L404.1 602.9L406.7 601.5L410.1 596.3L412.7 596.0L415.3 586.9L419.5 585.2L424.7 584.0L429.0 581.7L430.0 581.7L433.4 580.5L436.9 584.0L442.0 577.8L445.8 572.6L448.9 577.1L454.9 576.1L460.9 585.2L463.5 582.9L467.8 582.6L471.2 578.8L478.9 575.7L482.0 584.0L488.4 580.0L493.5 578.8L497.0 582.3L500.4 590.8L504.2 590.8L506.4 587.8L509.0 590.8L515.8 589.8L521.0 599.8L526.1 599.4L529.6 590.3L532.7 588.6L536.4 589.1L539.0 611.8L543.3 616.1L547.6 621.2L551.9 616.1L555.3 616.1L557.0 617.8L560.5 617.8L563.6 611.8L567.3 613.5L569.9 613.5L572.8 617.8L579.4 603.5L583.6 602.3L587.9 594.3L593.1 596.3L597.4 611.8L600.0 601.5L606.0 598.4L609.4 592.0L612.8 591.2L617.1 588.6L620.9 586.9L624.0 592.0L625.0 592.9L628.4 594.6L633.2 595.5L636.2 586.0L639.6 592.9L643.0 592.6L645.6 590.3L648.2 586.0L651.6 585.7L655.9 582.3L660.2 581.7L664.1 582.3L668.8 590.8L673.9 587.4L677.9 582.6L681.7 594.6L684.2 595.5L687.1 598.9L690.2 595.5L697.1 595.8L699.7 595.0L702.3 605.8L704.8 608.0L709.1 607.5L711.7 602.3L714.3 604.6L718.0 612.1L720.8 610.9L723.7 595.0L727.1 597.2L729.7 608.4L734.9 608.4L738.3 610.9L741.7 607.5L744.3 608.4L747.7 612.6L753.8 612.6L757.2 607.0L762.3 616.1L765.8 616.1L769.2 620.0L771.8 617.8L775.7 610.4L780.4 610.9L783.8 598.9L787.2 598.1L790.7 593.8L795.0 591.5L799.2 591.5L803.5 584.7L809.5 582.6L813.8 582.3L817.3 581.7L820.0 586.9L824.3 586.9L826.9 584.3L829.4 580.5L832.0 582.3L835.1 577.8L838.9 580.5L842.3 575.7L844.9 576.1L848.3 586.0L850.9 589.5L853.5 596.0L859.5 585.7L862.9 584.7L866.4 578.8L871.5 578.8L874.6 577.8L878.4 583.5L883.5 585.7L887.3 599.8L889.5 603.2L892.1 610.9L896.4 601.5L899.0 600.1L901.5 595.5L905.0 597.2L909.3 596.0L918.7 595.0L923.0 605.3L928.5 598.9L932.4 606.6L937.6 606.3L941.9 615.6L944.5 616.1L947.0 621.7L950.1 611.8L953.6 612.1L956.5 632.4L959.9 634.1L962.5 629.0L965.6 616.6L968.5 610.9L971.1 609.7L974.5 612.6L977.9 612.1L983.1 605.8L986.5 611.8L990.0 608.4L991.7 609.2L995.1 604.1L997.7 604.6L1003.7 610.4L1007.1 610.9L1011.4 614.4L1012.1 614.4L1016.4 615.6L1019.3 613.5L1022.4 618.7L1025.8 619.5L1028.9 625.2L1031.8 616.1L1036.1 611.8L1040.4 603.2L1044.7 601.1L1048.2 598.9L1052.4 590.8L1055.0 589.5L1060.2 592.9L1067.0 596.0L1070.8 594.3L1074.2 603.5L1077.3 598.9L1079.9 597.2L1083.0 592.0L1085.9 597.2L1089.7 598.9" stroke="#ff0000" stroke-width="1.7" fill="none" stroke-linejoin="round" stroke-linecap="round"/>
<path d="M950.3 637.2L1044.7 626.4" stroke="#000" stroke-width="3" stroke-linecap="round"/>
<path d="M20 654.7H34.5" stroke="#f00" stroke-width="1.8"/>
<text class="lg" x="42.5" y="658.7">MICEX [RSI]</text>
<path d="M42.5 672.2H1113.5M42.5 684.3H1113.5M42.5 696.3H1113.5M42.5 708.4H1113.5M42.5 720.4H1113.5" stroke="#c2c2c2" stroke-width="1" stroke-dasharray="3 3"/>
<path d="M42.5 684.3H1113.5" stroke="#a8a8ff" stroke-width="2"/>
<rect x="42.5" y="670.5" width="1071.0" height="59.5" fill="none" stroke="#8c8cff" stroke-width="1.3"/>
<path d="M36 672.25H42.5M1113.5 672.25H1119.5M36 684.30H42.5M1113.5 684.30H1119.5M36 696.35H42.5M1113.5 696.35H1119.5M36 708.40H42.5M1113.5 708.40H1119.5M36 720.45H42.5M1113.5 720.45H1119.5M39 678.27H42.5M1113.5 678.27H1116.5M39 690.32H42.5M1113.5 690.32H1116.5M39 702.38H42.5M1113.5 702.38H1116.5M39 714.42H42.5M1113.5 714.42H1116.5M39 726.47H42.5M1113.5 726.47H1116.5" stroke="#8c8cff" stroke-width="1" fill="none"/>
<text class="ax" x="34" y="676.2" text-anchor="end">1</text>
<text class="ax" x="1120" y="676.2">1</text>
<text class="ax" x="34" y="688.3" text-anchor="end">0</text>
<text class="ax" x="1120" y="688.3">0</text>
<text class="ax" x="34" y="700.3" text-anchor="end">-1</text>
<text class="ax" x="1120" y="700.3">-1</text>
<text class="ax" x="34" y="712.4" text-anchor="end">-2</text>
<text class="ax" x="1120" y="712.4">-2</text>
<text class="ax" x="34" y="724.4" text-anchor="end">-3</text>
<text class="ax" x="1120" y="724.4">-3</text>
<path d="M45.8 684.0V685.8M48.9 684.0V685.6M52.0 684.0V684.5M55.1 684.0V684.2M79.8 684.0V684.1M98.4 684.0V684.1M101.5 684.0V684.3M104.6 684.0V684.5M107.7 684.0V685.5M110.8 684.0V685.8M113.9 684.0V685.8M117.0 684.0V685.8M120.1 684.0V686.1M123.2 684.0V686.4M126.3 684.0V686.8M129.4 684.0V687.6M132.5 684.0V687.9M135.6 684.0V687.5M138.7 684.0V687.8M141.8 684.0V688.2M144.9 684.0V688.5M148.0 684.0V688.6M151.1 684.0V687.8M154.2 684.0V687.5M157.3 684.0V687.5M160.4 684.0V687.6M163.5 684.0V688.6M166.6 684.0V689.6M169.7 684.0V689.0M172.8 684.0V688.3M175.9 684.0V687.9M179.0 684.0V687.5M182.1 684.0V685.6M185.2 684.0V685.2M188.3 684.0V684.7M197.6 684.0V683.6M200.7 684.0V682.9M203.8 684.0V682.5M206.9 684.0V682.2M210.0 684.0V682.2M213.1 684.0V682.2M216.2 684.0V682.2M219.3 684.0V682.4M222.4 684.0V682.9M225.5 684.0V683.8M244.1 684.0V684.0M262.7 684.0V684.6M265.8 684.0V685.4M268.9 684.0V686.2M272.0 684.0V686.9M275.1 684.0V687.6M278.2 684.0V687.9M281.3 684.0V688.2M284.4 684.0V688.4M287.5 684.0V688.4M290.6 684.0V688.4M293.7 684.0V688.1M296.8 684.0V687.8M299.9 684.0V687.5M303.1 684.0V687.5M306.2 684.0V687.5M309.3 684.0V687.7M312.4 684.0V689.0M315.5 684.0V690.2M318.6 684.0V691.1M321.7 684.0V691.8M324.8 684.0V692.0M327.9 684.0V692.2M331.0 684.0V692.8M334.1 684.0V693.4M337.2 684.0V693.8M340.3 684.0V694.2M343.4 684.0V694.6M346.5 684.0V695.0M349.6 684.0V694.9M352.7 684.0V694.1M355.8 684.0V692.9M358.9 684.0V691.6M362.0 684.0V689.6M365.1 684.0V687.7M368.2 684.0V686.2M371.3 684.0V685.0M374.4 684.0V684.0M399.2 684.0V684.1M402.3 684.0V684.1M405.4 684.0V684.1M408.5 684.0V684.1M411.6 684.0V684.1M424.0 684.0V683.7M427.1 684.0V683.0M430.2 684.0V682.1M433.3 684.0V681.0M436.4 684.0V680.2M439.5 684.0V679.4M442.6 684.0V678.7M445.7 684.0V677.9M448.8 684.0V677.3M451.9 684.0V676.6M455.0 684.0V676.3M458.1 684.0V676.4M461.2 684.0V676.6M464.3 684.0V676.8M467.4 684.0V677.0M470.5 684.0V677.1M473.6 684.0V677.1M476.7 684.0V676.7M479.8 684.0V676.0M482.9 684.0V676.3M486.0 684.0V676.9M489.1 684.0V677.1M492.2 684.0V677.1M495.3 684.0V677.5M498.4 684.0V678.2M501.5 684.0V678.8M504.6 684.0V679.4M507.7 684.0V680.1M510.8 684.0V680.7M513.9 684.0V681.3M517.0 684.0V681.8M520.1 684.0V682.4M523.2 684.0V683.1M526.3 684.0V683.8M532.5 684.0V684.0M535.6 684.0V683.6M544.9 684.0V684.5M548.0 684.0V686.3M551.1 684.0V687.7M554.2 684.0V688.8M557.3 684.0V689.6M560.4 684.0V690.4M563.5 684.0V690.4M566.6 684.0V690.4M569.7 684.0V690.7M572.8 684.0V691.1M575.9 684.0V691.4M579.0 684.0V690.6M582.1 684.0V690.0M585.2 684.0V689.8M588.3 684.0V688.7M591.4 684.0V687.3M594.5 684.0V686.9M597.6 684.0V687.1M600.7 684.0V687.8M603.8 684.0V687.0M606.9 684.0V686.5M610.0 684.0V685.7M613.1 684.0V684.3M641.0 684.0V683.9M644.1 684.0V683.6M647.2 684.0V683.4M650.3 684.0V683.1M653.4 684.0V682.2M656.5 684.0V681.2M659.6 684.0V680.6M662.7 684.0V680.3M665.8 684.0V680.3M668.9 684.0V680.3M672.0 684.0V680.3M675.1 684.0V680.3M678.2 684.0V680.3M681.3 684.0V680.9M684.4 684.0V681.6M687.5 684.0V682.3M690.6 684.0V683.1M693.7 684.0V683.4M696.8 684.0V683.7M715.4 684.0V684.7M718.5 684.0V685.5M721.6 684.0V686.3M724.7 684.0V686.2M727.8 684.0V685.3M730.9 684.0V686.3M734.0 684.0V687.5M737.1 684.0V688.4M740.2 684.0V689.2M743.3 684.0V689.7M746.4 684.0V689.9M749.5 684.0V690.1M752.6 684.0V690.3M755.7 684.0V690.4M758.8 684.0V690.6M761.9 684.0V690.7M765.0 684.0V691.6M768.1 684.0V692.6M771.2 684.0V693.2M774.3 684.0V693.4M777.4 684.0V693.2M780.5 684.0V692.8M783.6 684.0V692.1M786.7 684.0V691.4M789.8 684.0V690.8M792.9 684.0V689.4M796.0 684.0V687.5M799.1 684.0V686.5M802.2 684.0V684.8M814.6 684.0V683.9M817.7 684.0V683.2M820.8 684.0V682.0M823.9 684.0V681.7M827.0 684.0V681.4M830.1 684.0V681.1M833.2 684.0V680.9M836.3 684.0V680.4M839.4 684.0V679.9M842.5 684.0V679.4M845.6 684.0V678.9M848.7 684.0V678.8M851.8 684.0V679.5M854.9 684.0V680.0M858.0 684.0V680.4M861.1 684.0V680.8M864.2 684.0V680.5M867.3 684.0V680.0M870.4 684.0V679.0M873.5 684.0V678.3M876.6 684.0V677.7M879.7 684.0V677.5M882.8 684.0V677.8M885.9 684.0V678.9M889.0 684.0V680.2M892.1 684.0V682.2M895.2 684.0V684.0M932.4 684.0V684.7M935.5 684.0V685.7M938.6 684.0V687.0M941.7 684.0V688.5M944.8 684.0V689.9M947.9 684.0V691.1M951.0 684.0V692.3M954.1 684.0V693.3M957.2 684.0V702.4M960.3 684.0V704.6M963.4 684.0V715.9M966.5 684.0V719.1M969.6 684.0V719.0M972.7 684.0V718.3M975.8 684.0V718.1M978.9 684.0V718.0M982.0 684.0V717.5M985.1 684.0V714.8M988.2 684.0V714.2M991.3 684.0V713.7M994.4 684.0V712.3M997.5 684.0V710.9M1000.6 684.0V710.1M1003.7 684.0V709.9M1006.8 684.0V710.3M1009.9 684.0V710.9M1013.0 684.0V711.9M1016.1 684.0V712.8M1019.2 684.0V713.7M1022.3 684.0V714.7M1025.4 684.0V716.4M1028.5 684.0V718.8M1031.6 684.0V723.1M1034.7 684.0V723.3M1037.8 684.0V722.2M1040.9 684.0V719.5M1044.0 684.0V716.4M1047.1 684.0V711.5M1050.2 684.0V707.6M1053.3 684.0V702.4M1056.4 684.0V695.8M1059.5 684.0V692.3M1062.6 684.0V689.4M1065.7 684.0V687.9M1068.8 684.0V687.0M1071.9 684.0V685.4M1075.0 684.0V687.0M1078.1 684.0V687.4M1081.2 684.0V685.9M1084.3 684.0V684.9M1087.4 684.0V684.9M1090.5 684.0V684.4" stroke="#0000f0" stroke-width="3.3" stroke-linecap="round" fill="none"/>
<path d="M58.2 683.8V684.2M61.3 683.8V684.2M64.4 683.8V684.2M67.5 683.8V684.2M70.5 683.8V684.2M73.6 683.8V684.2M76.7 683.8V684.2M82.9 683.8V684.2M86.0 683.8V684.2M89.1 683.8V684.2M92.2 683.8V684.2M95.3 683.8V684.2M191.4 683.8V684.2M194.5 683.8V684.2M228.6 683.8V684.2M231.7 683.8V684.2M234.8 683.8V684.2M237.9 683.8V684.2M241.0 683.8V684.2M247.2 683.8V684.2M250.3 683.8V684.2M253.4 683.8V684.2M256.5 683.8V684.2M259.6 683.8V684.2M377.5 683.8V684.2M380.6 683.8V684.2M383.7 683.8V684.2M386.8 683.8V684.2M389.9 683.8V684.2M393.0 683.8V684.2M396.1 683.8V684.2M414.7 683.8V684.2M417.8 683.8V684.2M420.9 683.8V684.2M529.4 683.8V684.2M538.7 683.8V684.2M541.8 683.8V684.2M616.2 683.8V684.2M619.3 683.8V684.2M622.4 683.8V684.2M625.5 683.8V684.2M628.6 683.8V684.2M631.7 683.8V684.2M634.8 683.8V684.2M637.9 683.8V684.2M699.9 683.8V684.2M703.0 683.8V684.2M706.1 683.8V684.2M709.2 683.8V684.2M712.3 683.8V684.2M805.3 683.8V684.2M808.4 683.8V684.2M811.5 683.8V684.2M898.3 683.8V684.2M901.4 683.8V684.2M904.5 683.8V684.2M907.6 683.8V684.2M910.7 683.8V684.2M913.8 683.8V684.2M916.9 683.8V684.2M920.0 683.8V684.2M923.1 683.8V684.2M926.2 683.8V684.2M929.3 683.8V684.2" stroke="#1010f0" stroke-width="2.4" stroke-linecap="round" fill="none"/>
<path d="M48.5 672V728M57.8 672V728M67.1 672V728M76.4 672V728M85.7 672V728M95.0 672V728M104.3 672V728M113.6 672V728M122.9 672V728M132.2 672V728M141.5 672V728M150.8 672V728M160.1 672V728M169.4 672V728M178.7 672V728M188.0 672V728M197.3 672V728M206.6 672V728M215.9 672V728M225.2 672V728M234.5 672V728M243.8 672V728M253.1 672V728M262.4 672V728M271.7 672V728M281.0 672V728M290.3 672V728M299.6 672V728M308.9 672V728M318.2 672V728M327.5 672V728M336.8 672V728M346.1 672V728M355.4 672V728M364.7 672V728M374.0 672V728M383.3 672V728M392.6 672V728M401.9 672V728M411.2 672V728M420.5 672V728M429.8 672V728M439.1 672V728M448.4 672V728M457.7 672V728M467.0 672V728M476.3 672V728M485.6 672V728M494.9 672V728M504.2 672V728M513.5 672V728M522.8 672V728M532.1 672V728M541.4 672V728M550.7 672V728M560.0 672V728M569.3 672V728M578.6 672V728M587.9 672V728M597.2 672V728M606.5 672V728M615.8 672V728M625.1 672V728M634.4 672V728M643.7 672V728M653.0 672V728M662.3 672V728M671.6 672V728M680.9 672V728M690.2 672V728M699.5 672V728M708.8 672V728M718.1 672V728M727.4 672V728M736.7 672V728M746.0 672V728M755.3 672V728M764.6 672V728M773.9 672V728M783.2 672V728M792.5 672V728M801.8 672V728M811.1 672V728M820.4 672V728M829.7 672V728M839.0 672V728M848.3 672V728M857.6 672V728M866.9 672V728M876.2 672V728M885.5 672V728M894.8 672V728M904.1 672V728M913.4 672V728M922.7 672V728M932.0 672V728M941.3 672V728M950.6 672V728M959.9 672V728M969.2 672V728M978.5 672V728M987.8 672V728M997.1 672V728M1006.4 672V728M1015.7 672V728M1025.0 672V728M1034.3 672V728M1043.6 672V728M1052.9 672V728M1062.2 672V728M1071.5 672V728M1080.8 672V728M1090.1 672V728" stroke="#fff" stroke-opacity="0.62" stroke-width="1.1"/>
<path d="M20 742H34.5" stroke="#0000ff" stroke-width="2.6"/>
<text class="lg" x="42.5" y="746">MICEX [MACD]</text>
<path d="M42.5 750.7H1113.5M42.5 750.7V777M80.5 750.7V763.5M122.7 750.7V763.5M167.5 750.7V763.5M210.8 750.7V763.5M253.3 750.7V763.5M297.8 750.7V763.5M346.1 750.7V763.5M388.6 750.7V763.5M433.7 750.7V763.5M481.9 750.7V763.5M528.2 750.7V763.5M573.1 750.7V763.5M620.8 750.7V763.5M666.4 750.7V763.5M711.4 750.7V763.5M757.3 750.7V763.5M802.9 750.7V763.5M848.2 750.7V763.5M892.8 750.7V763.5M937.6 750.7V763.5M983.7 750.7V763.5M1028.8 750.7V763.5M1074.1 750.7V763.5M80.5 750.7V777M297.8 750.7V777M539.3 750.7V777M757.3 750.7V777M956.2 750.7V777" stroke="#8c8cff" stroke-width="1.2" fill="none"/>
<path d="M42.5 763.7H1113.5" stroke="#a0a0ff" stroke-width="1.8"/>
<text class="lg" x="83.5" y="760.5">1</text>
<text class="lg" x="125.7" y="760.5">8</text>
<text class="lg" x="170.5" y="760.5">14</text>
<text class="lg" x="213.8" y="760.5">20</text>
<text class="lg" x="256.3" y="760.5">26</text>
<text class="lg" x="300.8" y="760.5">2</text>
<text class="lg" x="349.1" y="760.5">6</text>
<text class="lg" x="391.6" y="760.5">12</text>
<text class="lg" x="436.7" y="760.5">18</text>
<text class="lg" x="484.9" y="760.5">24</text>
<text class="lg" x="531.2" y="760.5">30</text>
<text class="lg" x="576.1" y="760.5">10</text>
<text class="lg" x="623.8" y="760.5">16</text>
<text class="lg" x="669.4" y="760.5">22</text>
<text class="lg" x="714.4" y="760.5">28</text>
<text class="lg" x="760.3" y="760.5">3</text>
<text class="lg" x="805.9" y="760.5">7</text>
<text class="lg" x="851.2" y="760.5">13</text>
<text class="lg" x="895.8" y="760.5">20</text>
<text class="lg" x="940.6" y="760.5">27</text>
<text class="lg" x="986.7" y="760.5">6</text>
<text class="lg" x="1031.8" y="760.5">14</text>
<text class="lg" x="1077.1" y="760.5">21</text>
<text class="lg" x="83.5" y="773.5">Nov</text>
<text class="lg" x="300.8" y="773.5">Dec</text>
<text class="lg" x="542.3" y="773.5">2014</text>
<text class="lg" x="760.3" y="773.5">Feb</text>
<text class="lg" x="959.2" y="773.5">Mar</text>
<rect x="1160" y="0" width="5" height="783" fill="#f6f6f6"/>
<g font-size="12.5" fill="#e6e6e6"><text x="10.4" y="800.8" textLength="59.1" lengthAdjust="spacing">Элитный</text><text x="76.5" y="800.8" textLength="60.7" lengthAdjust="spacing">Трейдер,</text><text x="143.7" y="800.8" textLength="114.7" lengthAdjust="spacing">ELITETRADER.RU</text></g>
<defs>
<linearGradient id="ga" x1="0" y1="0" x2="0" y2="1"><stop offset="0" stop-color="#a8dc50"/><stop offset="0.5" stop-color="#b4e83c"/><stop offset="1" stop-color="#7fc010"/></linearGradient>
<linearGradient id="gs" x1="0" y1="0" x2="0" y2="1"><stop offset="0" stop-color="#6fb41c"/><stop offset="1" stop-color="#0e5a06"/></linearGradient>
<linearGradient id="go" x1="0" y1="0" x2="0" y2="1"><stop offset="0" stop-color="#fff2c8"/><stop offset="0.45" stop-color="#f59a20"/><stop offset="1" stop-color="#cf2a10"/></linearGradient>
<linearGradient id="gc" x1="0.15" y1="0.1" x2="0.85" y2="0.95"><stop offset="0" stop-color="#7cc81c"/><stop offset="0.35" stop-color="#e6c410"/><stop offset="0.65" stop-color="#ff9408"/><stop offset="1" stop-color="#ff4a50"/></linearGradient>
<radialGradient id="gh" cx="0.45" cy="0.2" r="0.55"><stop offset="0" stop-color="#fff" stop-opacity="0.75"/><stop offset="1" stop-color="#fff" stop-opacity="0"/></radialGradient>
</defs>
<path d="M1050.6 787L1058.2 796H1054.3V802.8Q1054.3 804.4 1052.7 804.4H1050.5Q1048.9 804.4 1048.9 802.8V796H1042.8Z" fill="url(#ga)"/>
<path d="M1050 795.5H1053.3V802.6Q1053.3 803.6 1052.3 803.6H1051Q1050 803.6 1050 802.6Z" fill="url(#gs)"/>
<rect x="1040.7" y="797.8" width="8.6" height="6.2" rx="0.8" fill="url(#go)"/>
<text x="1061.6" y="801.7" font-size="15" font-weight="bold" fill="#fff" textLength="22.4" lengthAdjust="spacingAndGlyphs">clip</text>
<circle cx="1092" cy="796.6" r="8.2" fill="url(#gc)"/>
<circle cx="1092" cy="796.6" r="8.2" fill="url(#gh)"/>
<text x="1087.7" y="802.1" font-size="14.5" font-weight="bold" fill="#fff" textLength="8.6" lengthAdjust="spacingAndGlyphs">2</text>
<text x="1100" y="801.7" font-size="15" font-weight="bold" fill="#fff" textLength="21.4" lengthAdjust="spacingAndGlyphs">net</text>
<text x="1122.2" y="801.7" font-size="15" font-weight="bold" fill="#8c9393" textLength="33.4" lengthAdjust="spacingAndGlyphs">.com</text>

</svg></body></html>
